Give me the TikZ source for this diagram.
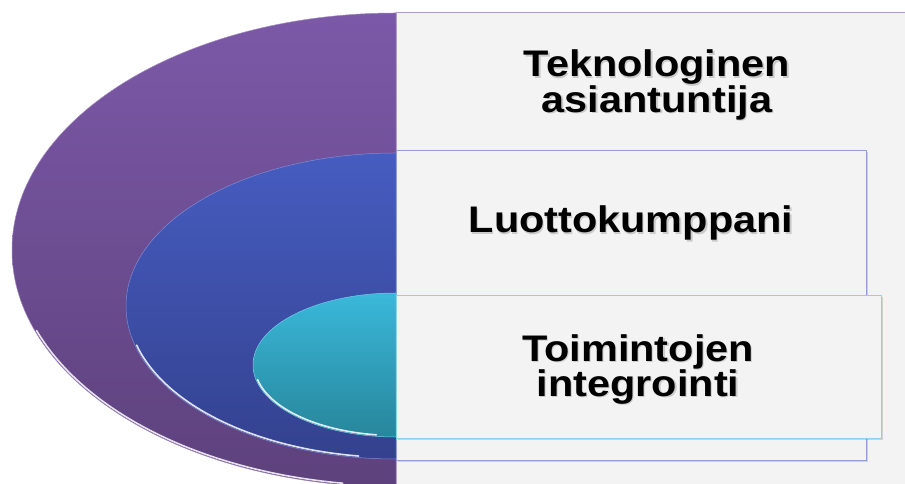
\documentclass[tikz,border=0pt]{standalone}
\usepackage{fontspec}
\setmainfont{Liberation Sans}
\newfontfamily\widesans[FakeStretch=1.12]{Liberation Sans}
\usetikzlibrary{shadows}
\definecolor{purpT}{HTML}{7C59A8}
\definecolor{purpB}{HTML}{5D417C}
\definecolor{blueT}{HTML}{465CC0}
\definecolor{blueB}{HTML}{33418E}
\definecolor{cyanT}{HTML}{3AB8DA}
\definecolor{cyanB}{HTML}{27869B}
\definecolor{boxfill}{HTML}{F3F3F3}
\begin{document}
\begin{tikzpicture}[x=1pt,y=1pt,
  box/.style={fill=boxfill, draw=#1, line width=0.6pt, inner sep=0pt, anchor=north west,
    drop shadow={opacity=0.3,shadow xshift=1.5pt,shadow yshift=-2pt}},
  lbl/.style={font=\widesans\bfseries\fontsize{37}{35.5}\selectfont, align=center, inner sep=0pt, text=black},
  lblshadow/.style={lbl, text=black!40, opacity=0.45},
  rim/.style={white, opacity=0.85, line width=1.6pt, line cap=round}]
\useasboundingbox (0,0) rectangle (905,484);
% outer level
\shade[top color=purpT, bottom color=purpB, draw=purpT!70!white, line width=0.5pt]
  (396,471) arc[start angle=90, end angle=270, x radius=384, y radius=237] -- cycle;
\draw[rim] (396,234) ++(200:382.5 and 235.5) arc[start angle=200, end angle=262, x radius=382.5, y radius=235.5];
\node[box=purpT!60!white, minimum width=520, minimum height=490] (r1) at (396,472) {};
% middle level
\shade[top color=blueT, bottom color=blueB, draw=blueT!70!white, line width=0.5pt]
  (396,331) arc[start angle=90, end angle=270, x radius=270, y radius=153] -- cycle;
\draw[rim] (396,178) ++(195:268.5 and 151.5) arc[start angle=195, end angle=262, x radius=268.5, y radius=151.5];
\node[box=blueT!60!white, minimum width=470, minimum height=310] (r2) at (396,334) {};
% inner level
\shade[top color=cyanT, bottom color=cyanB, draw=cyanT!70!white, line width=0.5pt]
  (396,191) arc[start angle=90, end angle=270, x radius=143, y radius=72] -- cycle;
\draw[rim] (396,119) ++(192:141.5 and 70.5) arc[start angle=192, end angle=262, x radius=141.5, y radius=70.5];
\node[box=cyanT!60!white, minimum width=485, minimum height=143] (r3) at (396,189) {};
% labels
\node[lblshadow] (t1s) at (658.2,397.8) {Teknologinen\\asiantuntija};
\node[lbl] (t1) at (657,399) {Teknologinen\\asiantuntija};
\node[lblshadow, anchor=base] (t2s) at (632.2,249.8) {Luottokumppani};
\node[lbl, anchor=base] (t2) at (631,251) {Luottokumppani};
\node[lblshadow] (t3s) at (639.2,113.3) {Toimintojen\\integrointi};
\node[lbl] (t3) at (638,114.5) {Toimintojen\\integrointi};
\end{tikzpicture}
\end{document}
